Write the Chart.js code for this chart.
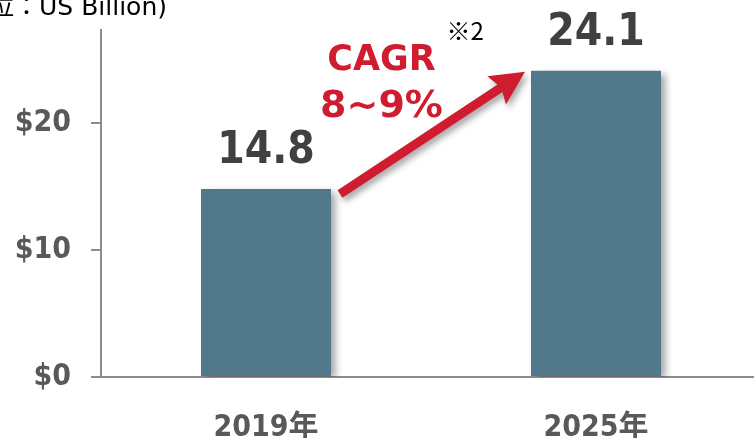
<!DOCTYPE html>
<html>
<head>
<meta charset="utf-8">
<script src="https://cdn.jsdelivr.net/npm/chart.js@4/dist/chart.umd.min.js"></script>
<style>
  html, body { margin: 0; padding: 0; background: #fff; overflow: hidden; }
  .wrap { position: relative; width: 770px; height: 438px; }
</style>
</head>
<body>
<div class="wrap"><canvas id="marketChart"></canvas></div>
<script>
// Market size (US$ billion)
const years = ['2019年', '2025年'];
const marketSize = [14.8, 24.1];
const yTicks = [0, 10, 20];
const unitNote = '(単位：US Billion)';
const cagrText = ['CAGR', '8~9%'];
const footMark = '※2';

const BAR = '#52788b';
const RED = '#d01c2f';
const AXIS = '#8c8c8c';
const TICK_TXT = '#595959';
const LABEL_TXT = '#404040';
const COND = '"DejaVu Sans Condensed", "DejaVu Sans", "Noto Sans CJK JP", sans-serif';
const SANS = '"DejaVu Sans", "Noto Sans CJK JP", sans-serif';

// soft drop shadow under the bars
const barShadow = {
    id: 'barShadow',
    beforeDatasetsDraw(chart) {
        const c = chart.ctx;
        c.save();
        c.shadowColor = 'rgba(0,0,0,0.35)';
        c.shadowBlur = 7;
        c.shadowOffsetX = 5;
        c.shadowOffsetY = 3;
    },
    afterDatasetsDraw(chart) {
        chart.ctx.restore();
    }
};

// value labels, growth arrow and notes
const overlay = {
    id: 'overlay',
    afterDraw(chart) {
        const c = chart.ctx;
        const bars = chart.getDatasetMeta(0).data;

        c.save();
        c.textAlign = 'center';
        c.textBaseline = 'alphabetic';
        c.fillStyle = LABEL_TXT;
        c.font = 'bold 44px ' + COND;
        bars.forEach((b, i) => {
            c.fillText(marketSize[i].toFixed(1), b.x, b.y - 26);
        });

        // arrow from first bar to second bar
        const b0 = bars[0], b1 = bars[1];
        const x0 = b0.x + b0.width / 2 + 9, y0 = b0.y + 5;
        const x1 = b1.x - b1.width / 2 - 6, y1 = b1.y + 1;
        const ang = Math.atan2(y1 - y0, x1 - x0);
        const len = Math.hypot(x1 - x0, y1 - y0);
        const headL = 30, headW = 17, shaft = 4.5;
        c.translate(x0, y0);
        c.rotate(ang);
        c.shadowColor = 'rgba(0,0,0,0.35)';
        c.shadowBlur = 6;
        c.shadowOffsetX = 3;
        c.shadowOffsetY = 4;
        c.fillStyle = RED;
        c.beginPath();
        c.moveTo(0, -shaft);
        c.lineTo(len - headL, -shaft);
        c.lineTo(len - headL - 4, -headW);
        c.lineTo(len, 0);
        c.lineTo(len - headL - 4, headW);
        c.lineTo(len - headL, shaft);
        c.lineTo(0, shaft);
        c.closePath();
        c.fill();
        c.restore();

        c.save();
        const mx = (x0 + x1) / 2, my = (y0 + y1) / 2;
        c.textAlign = 'center';
        c.fillStyle = RED;
        c.font = 'bold 35px ' + SANS;
        c.fillText(cagrText[0], mx - 51, my - 63);
        c.font = 'bold 38px ' + SANS;
        c.fillText(cagrText[1], mx - 51, my - 16);

        c.fillStyle = '#000';
        c.font = '24px "Noto Sans CJK JP", sans-serif';
        c.textAlign = 'left';
        c.fillText(footMark, mx + 14, my - 93);

        c.fillStyle = '#000';
        c.font = '25px ' + SANS;
        c.textAlign = 'right';
        c.fillText(unitNote, 167, 15);
        c.restore();
    }
};

new Chart(document.getElementById('marketChart'), {
    type: 'bar',
    data: {
        labels: years,
        datasets: [{
            data: marketSize,
            backgroundColor: BAR,
            borderWidth: 0,
            categoryPercentage: 1,
            barPercentage: 0.394
        }]
    },
    options: {
        responsive: true,
        maintainAspectRatio: false,
        animation: false,
        layout: { padding: { top: 30, right: 9, left: 0, bottom: 0 } },
        plugins: {
            legend: { display: false },
            tooltip: { enabled: false }
        },
        scales: {
            x: {
                z: 1,
                grid: { display: false },
                border: { display: true, color: AXIS, width: 2 },
                ticks: {
                    color: TICK_TXT,
                    font: { family: COND, size: 30, weight: 'bold' },
                    padding: 25
                },
                afterFit(scale) { scale.height = 61; }
            },
            y: {
                min: 0,
                max: 27.3,
                afterBuildTicks(scale) {
                    scale.ticks = yTicks.map(v => ({ value: v }));
                },
                grid: {
                    drawOnChartArea: false,
                    drawTicks: true,
                    tickLength: 10,
                    color: AXIS,
                    lineWidth: 2
                },
                border: { display: true, color: AXIS, width: 2 },
                ticks: {
                    color: TICK_TXT,
                    font: { family: COND, size: 30, weight: 'bold' },
                    padding: 20,
                    callback: v => '$' + v
                },
                afterFit(scale) {
                    scale.width = 101;
                    scale.paddingTop = 0;
                }
            }
        }
    },
    plugins: [barShadow, overlay]
});
</script>
</body>
</html>
